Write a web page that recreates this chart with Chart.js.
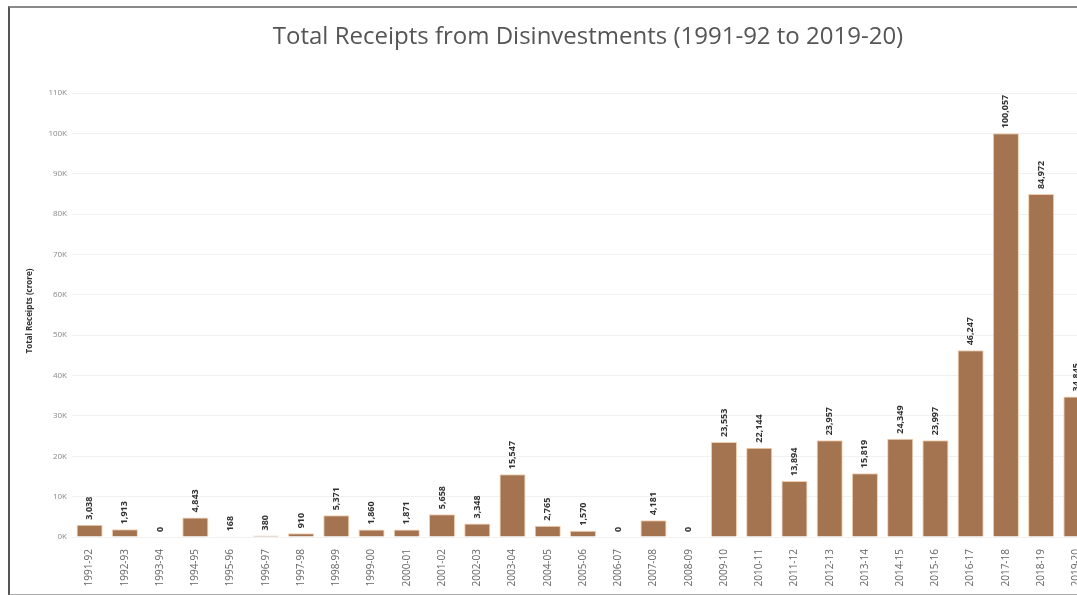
<!DOCTYPE html>
<html>
<head>
<meta charset="utf-8">
<script src="https://cdn.jsdelivr.net/npm/chart.js@4"></script>
<style>
  html, body { margin: 0; padding: 0; background: #fff; overflow: hidden; }
  body { width: 1077px; height: 595px; position: relative; }
  #frame {
    position: absolute; left: 8px; top: 6px; width: 1200px; height: 586px;
    border-left: 2px solid #555; border-top: 2px solid #8a8a8a; border-bottom: 2px solid #aaa;
  }
  #wrap { position: absolute; left: 10px; top: 8px; width: 1156px; height: 584px; }
</style>
</head>
<body>
<div id="frame"></div>
<div id="wrap"><canvas id="chart"></canvas></div>
<script>
const years = [
    '1991-92', '1992-93', '1993-94', '1994-95', '1995-96', '1996-97', '1997-98', '1998-99',
    '1999-00', '2000-01', '2001-02', '2002-03', '2003-04', '2004-05', '2005-06', '2006-07',
    '2007-08', '2008-09', '2009-10', '2010-11', '2011-12', '2012-13', '2013-14', '2014-15',
    '2015-16', '2016-17', '2017-18', '2018-19', '2019-20'
];
const receipts = [
    3038, 1913, 0, 4843, 168, 380, 910, 5371,
    1860, 1871, 5658, 3348, 15547, 2765, 1570, 0,
    4181, 0, 23553, 22144, 13894, 23957, 15819, 24349,
    23997, 46247, 100057, 84972, 34845
];
const yTicks = [0, 10000, 20000, 30000, 40000, 50000, 60000, 70000, 80000, 90000, 100000, 110000];
const chartTitle = 'Total Receipts from Disinvestments (1991-92 to 2019-20)';

const barColor = '#a4734f';
const fontFamily = "'Open Sans', 'DejaVu Sans', sans-serif";

// title drawn at a fixed centre, since the plot runs off the right edge
const titlePlugin = {
    id: 'titlePlugin',
    beforeDraw(chart) {
        const ctx = chart.ctx;
        ctx.save();
        ctx.font = '24px ' + fontFamily;
        ctx.fillStyle = '#555';
        ctx.textAlign = 'center';
        ctx.textBaseline = 'middle';
        ctx.fillText(chartTitle, 578, 29);
        ctx.restore();
    }
};

// value labels drawn rotated above each bar
const barLabels = {
    id: 'barLabels',
    afterDatasetsDraw(chart) {
        const ctx = chart.ctx;
        const meta = chart.getDatasetMeta(0);
        ctx.save();
        ctx.font = 'bold 9px ' + fontFamily;
        ctx.fillStyle = '#333';
        ctx.textAlign = 'left';
        ctx.textBaseline = 'middle';
        meta.data.forEach((bar, i) => {
            ctx.save();
            ctx.translate(bar.x, bar.y - 5);
            ctx.rotate(-Math.PI / 2);
            ctx.fillText(receipts[i].toLocaleString('en-US'), 0, 0);
            ctx.restore();
        });
        ctx.restore();
    }
};

const ctx = document.getElementById('chart').getContext('2d');
const chart = new Chart(ctx, {
    type: 'bar',
    data: {
        labels: years,
        datasets: [{
            label: 'Total Receipts',
            data: receipts,
            backgroundColor: barColor,
            borderColor: '#f2cfae',
            borderWidth: 1,
            barPercentage: 0.74,
            categoryPercentage: 1
        }]
    },
    options: {
        responsive: true,
        maintainAspectRatio: false,
        animation: false,
        layout: { padding: { left: 0, right: 72, top: 77, bottom: 0 } },
        plugins: {
            legend: { display: false },
            tooltip: { enabled: false },
            title: { display: false }
        },
        scales: {
            x: {
                grid: { display: false },
                border: { display: false },
                ticks: {
                    color: '#666',
                    font: { family: fontFamily, size: 10 },
                    minRotation: 90,
                    maxRotation: 90,
                    autoSkip: false,
                    padding: 4
                },
                afterFit: scale => { scale.height = 55; }
            },
            y: {
                min: 0,
                max: 112000,
                afterBuildTicks: scale => { scale.ticks = yTicks.map(v => ({ value: v })); },
                grid: { color: '#f1f1f1', drawTicks: false },
                border: { display: false },
                ticks: {
                    color: '#888',
                    font: { family: fontFamily, size: 8 },
                    padding: 5,
                    callback: v => (v / 1000) + 'K'
                },
                title: {
                    display: true,
                    text: 'Total Receipts (crore)',
                    color: '#333',
                    font: { family: fontFamily, size: 8, weight: 'bold' },
                    padding: { top: 15, bottom: 0 }
                },
                afterFit: scale => { scale.width = 62; }
            }
        }
    },
    plugins: [titlePlugin, barLabels]
});
</script>
</body>
</html>
